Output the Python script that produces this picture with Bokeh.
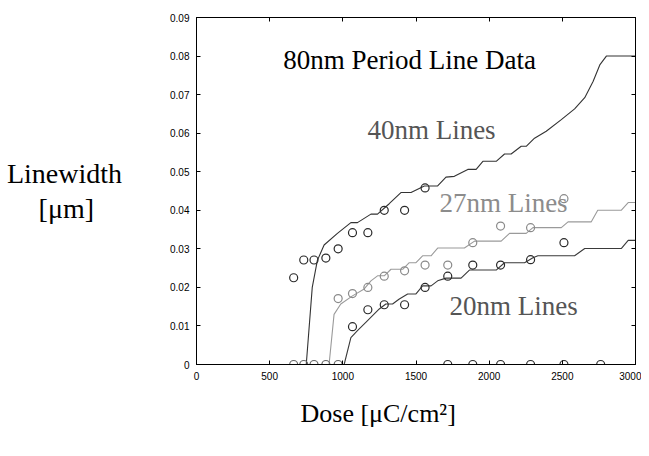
from bokeh.plotting import figure
from bokeh.models import Label, LinearAxis, FixedTicker, CustomJSTickFormatter, Title
from bokeh.embed import file_html
from bokeh.resources import INLINE

# ---------------- data ----------------
x_ticks = [0, 500, 1000, 1500, 2000, 2500, 3000]
x_tick_labels = ["0", "500", "1000", "1500", "2000", "2500", "3000"]
y_ticks = [0, 0.01, 0.02, 0.03, 0.04, 0.05, 0.06, 0.07, 0.08, 0.09]
y_tick_labels = ["0", "0.01", "0.02", "0.03", "0.04", "0.05", "0.06", "0.07", "0.08", "0.09"]

# measured 40nm lines (black circles)
dose40 = [664, 733, 803, 884, 968, 1066, 1171, 1283, 1422, 1562]
lw40 = [0.0225, 0.0271, 0.0271, 0.0276, 0.030, 0.0342, 0.0342, 0.040, 0.040, 0.0458]

# measured 27nm lines (grey circles)
dose27 = [968, 1066, 1171, 1283, 1422, 1562, 1717, 1888, 2078, 2283, 2511]
lw27 = [0.0171, 0.0184, 0.020, 0.0229, 0.0243, 0.0258, 0.0258, 0.0316, 0.0359, 0.0355, 0.043]

# measured 20nm lines (black circles)
dose20 = [1066, 1171, 1283, 1422, 1562, 1717, 1888, 2078, 2283, 2511]
lw20 = [0.0098, 0.0142, 0.0155, 0.0155, 0.020, 0.0229, 0.0258, 0.0258, 0.0272, 0.0316]

# zero-linewidth points
dose_zero_grey = [664, 733, 803, 884, 968]
lw_zero_grey = [0, 0, 0, 0, 0]
dose_zero_black = [1717, 1888, 2078, 2283, 2511, 2762]
lw_zero_black = [0, 0, 0, 0, 0, 0]

# simulated curves
line40_dose = [750, 791, 826, 872, 963, 1055, 1100, 1192, 1237, 1317, 1397, 1466, 1557, 1648,
               1705, 1762, 1854, 1911, 1957, 2048, 2105, 2150, 2219, 2253, 2310, 2390, 2493,
               2584, 2653, 2710, 2756, 2801, 3000]
line40_lw = [0, 0.020, 0.027, 0.031, 0.034, 0.0368, 0.0368, 0.039, 0.039, 0.0417, 0.0446, 0.0446,
             0.0463, 0.0463, 0.0486, 0.0488, 0.0506, 0.0506, 0.0527, 0.0527, 0.0546, 0.0546,
             0.0566, 0.0566, 0.0587, 0.0605, 0.0635, 0.0663, 0.0692, 0.0734, 0.0777, 0.080, 0.080]

line27_dose = [906, 940, 986, 1066, 1146, 1192, 1237, 1283, 1329, 1409, 1454, 1500, 1545, 1603,
               1648, 1831, 1900, 2082, 2139, 2253, 2299, 2493, 2539, 2698, 2742, 2902, 2950, 3000]
line27_lw = [0, 0.013, 0.0157, 0.0178, 0.0196, 0.0217, 0.023, 0.023, 0.0247, 0.0247, 0.0264,
             0.0264, 0.0282, 0.0282, 0.0302, 0.0302, 0.032, 0.032, 0.034, 0.034, 0.0355, 0.0355,
             0.037, 0.037, 0.040, 0.040, 0.042, 0.042]

line20_dose = [1009, 1055, 1100, 1169, 1249, 1294, 1340, 1386, 1443, 1500, 1545, 1603, 1648,
               1705, 1808, 1865, 2048, 2105, 2242, 2299, 2333, 2584, 2653, 2904, 2950, 3000]
line20_lw = [0, 0.007, 0.0088, 0.0114, 0.0144, 0.0157, 0.0157, 0.017, 0.0183, 0.0183, 0.0204,
             0.0204, 0.0217, 0.0224, 0.0224, 0.0245, 0.0245, 0.0264, 0.0264, 0.0277, 0.0282,
             0.0282, 0.0301, 0.0301, 0.0322, 0.0322]

# non-breaking spaces pad the second line so that it sits centred under the first
y_title = "Linewidth\n[μm]" + "\u00a0" * 4
x_title = "Dose [μC/cm²]"

# ---------------- figure ----------------
SERIF = "Liberation Serif"
SANS = "Liberation Sans"

p = figure(width=641, height=448, x_range=(0, 3000), y_range=(0, 0.09),
           output_backend="svg", toolbar_location=None,
           min_border_left=196, min_border_right=6, min_border_top=17, min_border_bottom=84)
p.grid.visible = False
p.outline_line_color = "black"
p.outline_line_width = 1
p.background_fill_color = "white"
p.border_fill_color = "white"

for ax in p.xaxis:
    ax.ticker = FixedTicker(ticks=x_ticks)
    ax.major_label_overrides = {t: s for t, s in zip(x_ticks, x_tick_labels)}
for ax in p.yaxis:
    ax.ticker = FixedTicker(ticks=y_ticks)
    ax.major_label_overrides = {t: s for t, s in zip(y_ticks, y_tick_labels)}
for ax in list(p.xaxis) + list(p.yaxis):
    ax.major_tick_in = 4
    ax.major_tick_out = 0
    ax.minor_tick_in = 0
    ax.minor_tick_out = 0
    ax.axis_line_color = "black"
    ax.major_tick_line_color = "black"
    ax.major_label_text_font = SANS
    ax.major_label_text_font_size = "10px"
    ax.major_label_text_color = "black"
p.xaxis.major_label_standoff = 7
p.yaxis.major_label_standoff = 7

# y title as horizontal axis label
p.yaxis.axis_label = y_title
p.yaxis.axis_label_orientation = "horizontal"
p.yaxis.axis_label_text_font = SERIF
p.yaxis.axis_label_text_font_size = "28px"
p.yaxis.axis_label_text_font_style = "normal"
p.yaxis.axis_label_text_color = "black"
p.yaxis.axis_label_text_line_height = 1.12
p.yaxis.axis_label_standoff = 45

empty = CustomJSTickFormatter(code="return ''")
top = LinearAxis(ticker=FixedTicker(ticks=x_ticks), formatter=empty,
                 major_tick_in=4, major_tick_out=0, minor_tick_in=0, minor_tick_out=0,
                 major_label_standoff=0, major_label_text_font_size="1px")
right = LinearAxis(ticker=FixedTicker(ticks=y_ticks), formatter=empty,
                   major_tick_in=4, major_tick_out=0, minor_tick_in=0, minor_tick_out=0,
                   major_label_standoff=0, major_label_text_font_size="1px")
p.add_layout(top, "above")
p.add_layout(right, "right")

# x title below the axis
p.add_layout(Title(text=x_title, align="left", offset=104, standoff=29,
                   text_font=SERIF, text_font_size="26px", text_font_style="normal",
                   text_color="black"), "below")

# curves
p.line(line40_dose, line40_lw, line_color="#333333", line_width=1.1)
p.line(line27_dose, line27_lw, line_color="#9a9a9a", line_width=1.1)
p.line(line20_dose, line20_lw, line_color="#3a3a3a", line_width=1.1)

# data points
p.scatter(dose40, lw40, marker="circle", size=8, fill_color=None, line_color="#2a2a2a", line_width=1.2)
p.scatter(dose27, lw27, marker="circle", size=8, fill_color=None, line_color="#8a8a8a", line_width=1.2)
p.scatter(dose20, lw20, marker="circle", size=8, fill_color=None, line_color="#2a2a2a", line_width=1.2)
p.scatter(dose_zero_grey, lw_zero_grey, marker="circle", size=8, fill_color=None, line_color="#666666", line_width=1.2)
p.scatter(dose_zero_black, lw_zero_black, marker="circle", size=8, fill_color=None, line_color="#2a2a2a", line_width=1.2)

# texts inside the frame (data units)
def lab(x, y, t, color, size="27px"):
    p.add_layout(Label(x=x, y=y, text=t, text_font=SERIF, text_font_size=size,
                       text_color=color, text_align="center", text_baseline="middle"))

lab(1456, 0.0791, "80nm Period Line Data", "black")
lab(1606, 0.0607, "40nm Lines", "#555555")
lab(2098, 0.0420, "27nm Lines", "#8c8c8c")
lab(2167, 0.0153, "20nm Lines", "#555555")

open("out.html", "w").write(file_html(p, INLINE))
